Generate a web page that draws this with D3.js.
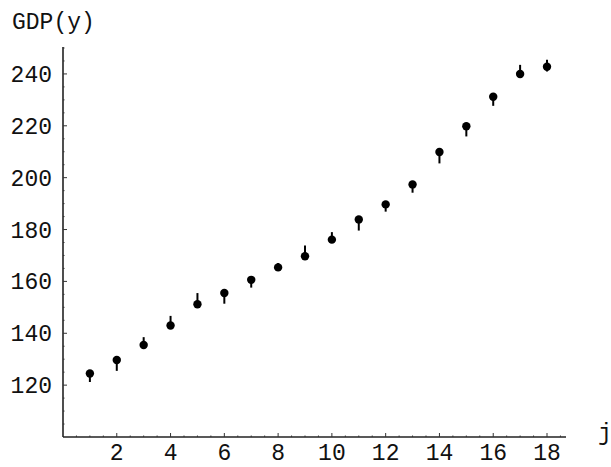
<!DOCTYPE html>
<html>
<head>
<meta charset="utf-8">
<script src="https://cdn.jsdelivr.net/npm/d3@7"></script>
<style>
body{margin:0;background:#fff}
text{font-family:"Liberation Mono",monospace;font-size:23px;fill:#111}
</style>
</head>
<body>
<script>
// observations j = 1..18
var jVals=[1,2,3,4,5,6,7,8,9,10,11,12,13,14,15,16,17,18];
var gdp=[124.5,129.7,135.5,143.0,151.2,155.5,160.6,165.4,169.7,176.1,183.9,189.7,197.4,209.9,219.8,231.2,240.0,242.8];
// error bar ends (low, high)
var barLo=[121.2,125.5,135.5,143.0,151.2,151.4,157.6,165.4,169.7,176.1,179.6,186.9,194.2,205.5,215.9,227.7,240.0,240.9];
var barHi=[124.5,129.7,138.5,146.7,155.5,155.5,160.6,167.1,173.8,179.0,183.9,189.7,197.4,209.9,219.8,231.2,243.5,245.5];
var xTicks=[2,4,6,8,10,12,14,16,18];
var yTicks=[120,140,160,180,200,220,240];

var W=611,H=467;
var svg=d3.select('body').append('svg')
    .attr('width',W)
    .attr('height',H);

var x=d3.scaleLinear().domain([0,18]).range([63,547]);
var y=d3.scaleLinear().domain([100,250]).range([437,48]);

// axes lines
svg.append("line").attr("x1",x(0)).attr("x2",566).attr("y1",y(100)).attr("y2",y(100))
    .attr("stroke","#222").attr("stroke-width",1.6);
svg.append("line").attr("x1",x(0)).attr("x2",x(0)).attr("y1",y(100)).attr("y2",47)
    .attr("stroke","#222").attr("stroke-width",1.6);

// minor ticks
svg.selectAll(".xm").data(d3.range(0.5,18.6,0.5)).enter().append("line")
    .attr("x1",d=>x(d)).attr("x2",d=>x(d))
    .attr("y1",y(100)).attr("y2",d=>y(100)-(d%2==0?4:1.5))
    .attr("stroke","#333").attr("stroke-width",1);
svg.selectAll(".ym").data(d3.range(105,251,5)).enter().append("line")
    .attr("y1",d=>y(d)).attr("y2",d=>y(d))
    .attr("x1",x(0)).attr("x2",d=>x(0)+(d%20==0?4:1.5))
    .attr("stroke","#333").attr("stroke-width",1);

// tick labels
svg.selectAll(".xl").data(xTicks).enter().append("text")
    .attr("x",d=>x(d)).attr("y",460)
    .attr("text-anchor","middle")
    .text(d=>d);
svg.selectAll(".yl").data(yTicks).enter().append("text")
    .attr("x",52).attr("y",d=>y(d)+8)
    .attr("text-anchor","end")
    .text(d=>d);

svg.append("text").attr("x",12).attr("y",29).text("GDP(y)");
svg.append("text").attr("x",598).attr("y",440).text("j");

// error bars
svg.selectAll(".bar").data(jVals).enter().append("line")
    .attr("x1",d=>x(d)).attr("x2",d=>x(d))
    .attr("y1",(d,i)=>y(barLo[i])).attr("y2",(d,i)=>y(barHi[i]))
    .attr("stroke","#000").attr("stroke-width",2);

// points
svg.selectAll(".pt").data(jVals).enter().append("circle")
    .attr("cx",d=>x(d)).attr("cy",(d,i)=>y(gdp[i]))
    .attr("r",4.2)
    .attr("fill","#000");
</script>
</body>
</html>
